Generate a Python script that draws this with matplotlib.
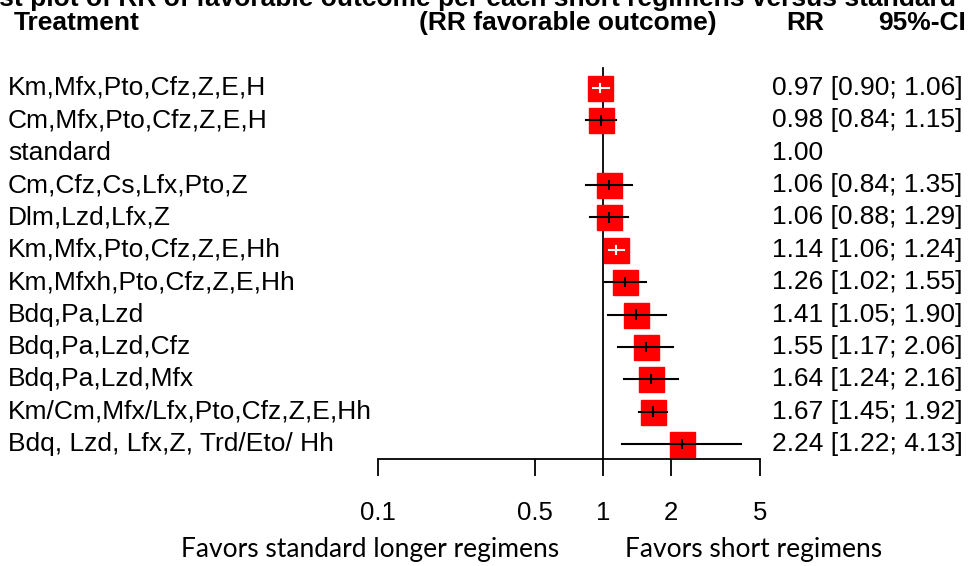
import matplotlib
matplotlib.use("Agg")
import matplotlib.pyplot as plt
import numpy as np

treatments = ["Km,Mfx,Pto,Cfz,Z,E,H", "Cm,Mfx,Pto,Cfz,Z,E,H", "standard",
              "Cm,Cfz,Cs,Lfx,Pto,Z", "Dlm,Lzd,Lfx,Z", "Km,Mfx,Pto,Cfz,Z,E,Hh",
              "Km,Mfxh,Pto,Cfz,Z,E,Hh", "Bdq,Pa,Lzd", "Bdq,Pa,Lzd,Cfz",
              "Bdq,Pa,Lzd,Mfx", "Km/Cm,Mfx/Lfx,Pto,Cfz,Z,E,Hh",
              "Bdq, Lzd, Lfx,Z, Trd/Eto/ Hh"]
rr = [0.97, 0.98, 1.00, 1.06, 1.06, 1.14, 1.26, 1.41, 1.55, 1.64, 1.67, 2.24]
lower = [0.90, 0.84, None, 0.84, 0.88, 1.06, 1.02, 1.05, 1.17, 1.24, 1.45, 1.22]
upper = [1.06, 1.15, None, 1.35, 1.29, 1.24, 1.55, 1.90, 2.06, 2.16, 1.92, 4.13]
xticks = [0.1, 0.5, 1, 2, 5]

W, H = 971, 566
plt.rcParams['font.family'] = ['Liberation Sans', 'DejaVu Sans']
fig = plt.figure(figsize=(W / 100, H / 100), dpi=100)

def px(x, y):
    return x / W, 1 - y / H

# forest axes, placed in pixel coordinates
x0, x1, ytop, yaxis = 378, 760, 68, 459
ax = fig.add_axes([x0 / W, 1 - yaxis / H, (x1 - x0) / W, (yaxis - ytop) / H])
ax.set_xscale('log')
ax.set_xlim(0.1, 5)
row_px = (444 - 88) / 11
ax.set_ylim(12 + (yaxis - 444) / row_px, 1 - (88 - ytop) / row_px)
for s in ['top', 'right', 'left']:
    ax.spines[s].set_visible(False)
ax.spines['bottom'].set_linewidth(1.3)
ax.set_yticks([])
ax.set_xticks(xticks)
ax.set_xticklabels([str(t) for t in xticks])
ax.minorticks_off()
ax.tick_params(axis='x', direction='out', length=12, width=1.3, pad=18,
               labelsize=18.5)
ax.axvline(1, color='black', lw=1.3, clip_on=False)

sq = 25  # square size in px
pxd = (x1 - x0) / np.log10(5 / 0.1)
for i, (r, lo, hi) in enumerate(zip(rr, lower, upper)):
    y = i + 1
    if lo is None:
        continue
    ax.plot([r], [y], marker='s', ms=sq * 0.72, color='#ff0000',
            mec='#ff0000', clip_on=False, zorder=3)
    # CI drawn white when it fits inside the square
    inside = (np.log10(r / lo) * pxd < sq / 2) and (np.log10(hi / r) * pxd < sq / 2)
    c = 'white' if inside else 'black'
    ax.plot([lo, hi], [y, y], color=c, lw=1.5, clip_on=False, zorder=4)
    ax.plot([r, r], [y - 0.13, y + 0.13], color=c, lw=1.5, clip_on=False, zorder=4)

fs = 19
# title (cut off at top)
fig.text(*px(-58, 6), "Forest plot of RR of favorable outcome per each short regimens versus standard",
         fontsize=fs, fontweight='bold', ha='left', va='baseline')
fig.text(*px(14, 23), "Treatment", fontsize=fs, fontweight='bold', ha='left', va='center')
fig.text(*px(568, 23), "(RR favorable outcome)", fontsize=fs, fontweight='bold',
         ha='center', va='center')
fig.text(*px(805, 23), "RR", fontsize=fs, fontweight='bold', ha='center', va='center')
fig.text(*px(966, 23), "95%-CI", fontsize=fs, fontweight='bold', ha='right', va='center')

for i, (t, r, lo, hi) in enumerate(zip(treatments, rr, lower, upper)):
    yy = 88 + i * row_px
    fig.text(*px(8, yy), t, fontsize=fs, ha='left', va='center')
    s = f"{r:.2f}" if lo is None else f"{r:.2f} [{lo:.2f}; {hi:.2f}]"
    fig.text(*px(772, yy), s, fontsize=fs, ha='left', va='center')

fig.text(*px(370, 549), "Favors standard longer regimens", fontsize=19,
         family=['Lato', 'DejaVu Sans'], ha='center', va='center')
fig.text(*px(754, 549), "Favors short regimens", fontsize=19,
         family=['Lato', 'DejaVu Sans'], ha='center', va='center')

fig.savefig("out.png", dpi=100)
